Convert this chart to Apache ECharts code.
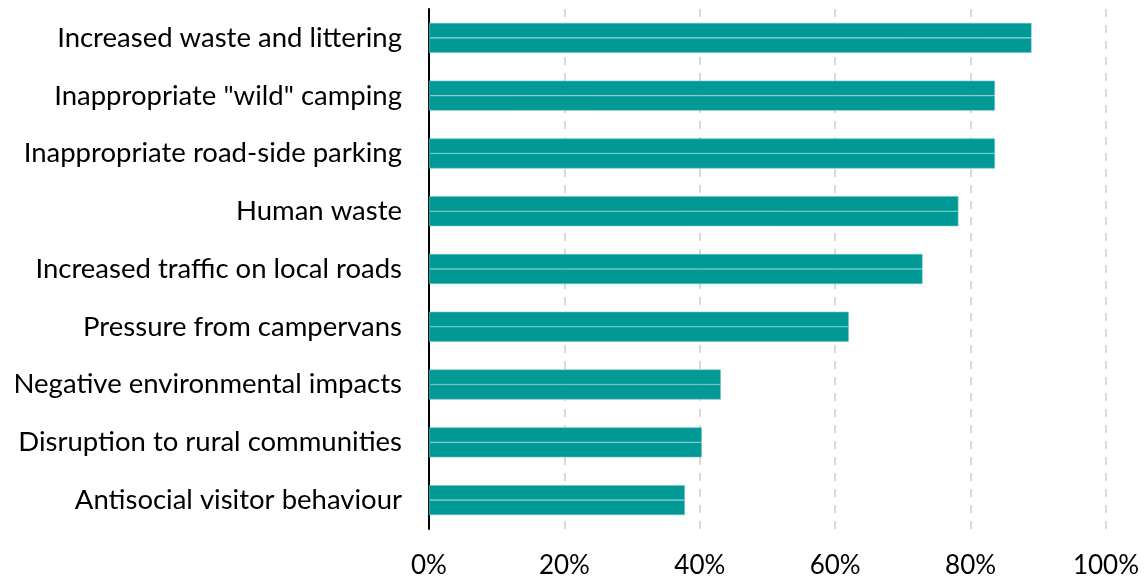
<!DOCTYPE html>
<html>
<head>
<meta charset="utf-8">
<script src="https://cdn.jsdelivr.net/npm/echarts@6/dist/echarts.min.js"></script>
<style>
  html, body { margin: 0; padding: 0; background: #ffffff; }
  #chart { width: 1145px; height: 579px; }
</style>
</head>
<body>
<div id="chart"></div>
<script>
// Reported visitor-pressure issues, share of respondents (%)
const categories = [
  'Increased waste and littering',
  'Inappropriate "wild" camping',
  'Inappropriate road-side parking',
  'Human waste',
  'Increased traffic on local roads',
  'Pressure from campervans',
  'Negative environmental impacts',
  'Disruption to rural communities',
  'Antisocial visitor behaviour'
];
const shares = [89.0, 83.6, 83.6, 78.2, 72.9, 62.0, 43.1, 40.3, 37.8];
const xTicks = [0, 20, 40, 60, 80, 100];

const FONT = 'Lato, "Open Sans", sans-serif';
const TEAL = '#009995';

const chart = echarts.init(document.getElementById('chart'), null, { renderer: 'canvas' });

// Each bar is drawn as two halves sharing the same value, giving the thin seam through the middle
const half = {
  type: 'bar',
  data: shares,
  barWidth: 15,
  barGap: '0%',
  itemStyle: { color: TEAL, borderColor: '#6cc3c0', borderWidth: 0.6 },
  silent: true
};

chart.setOption({
  animation: false,
  backgroundColor: '#ffffff',
  grid: { left: 429, right: 39, top: 9, bottom: 50, containLabel: false },
  xAxis: {
    type: 'value',
    min: 0,
    max: 100,
    interval: 20,
    axisLine: { show: false },
    axisTick: { show: false },
    splitLine: { show: true, lineStyle: { color: '#d9d9d9', width: 2, type: [8, 8] } },
    axisLabel: {
      color: '#000000',
      fontFamily: FONT,
      fontSize: 26,
      margin: 24,
      formatter: v => (xTicks.includes(v) ? v + '%' : '')
    }
  },
  yAxis: {
    type: 'category',
    data: categories,
    inverse: true,
    axisLine: { show: true, lineStyle: { color: '#000000', width: 2 } },
    axisTick: { show: false },
    axisLabel: {
      color: '#000000',
      fontFamily: FONT,
      fontSize: 27.5,
      margin: 27
    }
  },
  series: [
    Object.assign({}, half, { name: 'upper' }),
    Object.assign({}, half, { name: 'lower' })
  ]
});
</script>
</body>
</html>
